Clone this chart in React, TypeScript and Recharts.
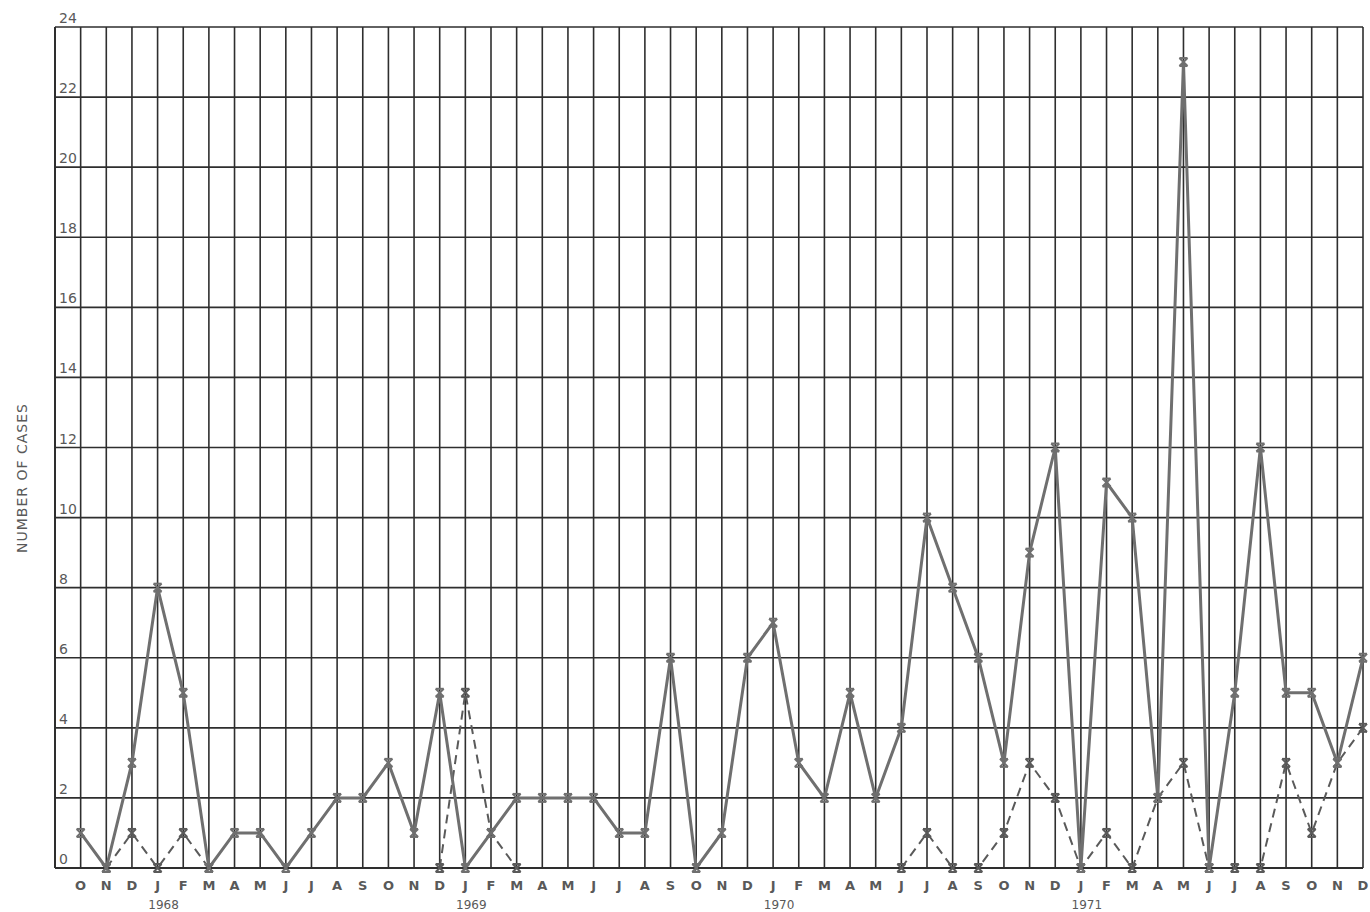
import React from 'react'
import { LineChart, Line, XAxis, YAxis, CartesianGrid } from 'recharts'

// Oct 1967 .. Dec 1971
const monthLetters = [
  'O', 'N', 'D',
  'J', 'F', 'M', 'A', 'M', 'J', 'J', 'A', 'S', 'O', 'N', 'D',
  'J', 'F', 'M', 'A', 'M', 'J', 'J', 'A', 'S', 'O', 'N', 'D',
  'J', 'F', 'M', 'A', 'M', 'J', 'J', 'A', 'S', 'O', 'N', 'D',
  'J', 'F', 'M', 'A', 'M', 'J', 'J', 'A', 'S', 'O', 'N', 'D',
]

const yearLabels: Record<number, string> = { 3: '1968', 15: '1969', 27: '1970', 39: '1971' }

const totalCases = [
  1, 0, 3,
  8, 5, 0, 1, 1, 0, 1, 2, 2, 3, 1, 5,
  0, 1, 2, 2, 2, 2, 1, 1, 6, 0, 1, 6,
  7, 3, 2, 5, 2, 4, 10, 8, 6, 3, 9, 12,
  0, 11, 10, 2, 23, 0, 5, 12, 5, 5, 3, 6,
]

// dashed series, null where it is not drawn
const dashedCases = [
  null, 0, 1,
  0, 1, 0, null, null, null, null, null, null, null, null, 0,
  5, 1, 0, null, null, null, null, null, null, null, null, null,
  null, null, null, null, null, 0, 1, 0, 0, 1, 3, 2,
  0, 1, 0, 2, 3, 0, 0, 0, 3, 1, 3, 4,
]

const yTicks = [0, 2, 4, 6, 8, 10, 12, 14, 16, 18, 20, 22, 24]
const xTicks = [-1, ...monthLetters.map((_, i) => i)]

const data = monthLetters.map((m, i) => ({
  i,
  month: m,
  total: totalCases[i],
  dashed: dashedCases[i],
}))

const ink = '#6f6f6f'
const gridInk = '#2e2e2e'
const textInk = '#595959'
const font = 'DejaVu Sans, sans-serif'

const Marker = (props: any) => {
  const { cx, cy, index, stroke } = props
  if (cx == null || cy == null || props.value == null) return <g key={`m-${index}`} />
  const s = 4
  return (
    <g key={`m-${index}`} stroke={stroke} strokeWidth={2}>
      <line x1={cx - s} y1={cy - s} x2={cx + s} y2={cy + s} />
      <line x1={cx + s} y1={cy - s} x2={cx - s} y2={cy + s} />
      <line x1={cx - s} y1={cy - s} x2={cx + s} y2={cy - s} />
      <line x1={cx - s} y1={cy + s} x2={cx + s} y2={cy + s} />
    </g>
  )
}

const MonthTick = (props: any) => {
  const { x, y, payload } = props
  const i = payload.value
  if (i < 0) return <g />
  return (
    <g>
      <text x={x} y={y} dy={14} textAnchor="middle" fontSize={13} fontWeight="bold"
        fontFamily={font} fill={textInk}>
        {monthLetters[i]}
      </text>
      {yearLabels[i] && (
        <text x={x + 6} y={y} dy={33} textAnchor="middle" fontSize={12}
          fontFamily={font} fill={textInk}>
          {yearLabels[i]}
        </text>
      )}
    </g>
  )
}

// labels sit inside the plot, just right of the axis and above each line
const CaseTick = (props: any) => {
  const { y, payload } = props
  return (
    <text x={59} y={y - 4} textAnchor="start" fontSize={14}
      fontFamily={font} fill={textInk}>
      {payload.value}
    </text>
  )
}

const AxisTitle = () => (
  <text x={27} y={478} transform="rotate(-90, 27, 478)" textAnchor="middle"
    fontSize={14} fontFamily={font} fill={textInk} letterSpacing={1}>
    NUMBER OF CASES
  </text>
)

export default function App() {
  return (
    <div style={{ position: 'absolute', left: 0, top: 0, background: '#fff' }}>
      <LineChart width={1370} height={912} data={data}
        margin={{ top: 27, right: 7, left: 0, bottom: 0 }}>
        <CartesianGrid stroke={gridInk} strokeWidth={1.6} />
        <XAxis
          dataKey="i"
          type="number"
          domain={[-1, 50]}
          ticks={xTicks}
          interval={0}
          height={44}
          tickLine={false}
          axisLine={{ stroke: gridInk, strokeWidth: 2 }}
          tick={<MonthTick />}
        />
        <YAxis
          type="number"
          domain={[0, 24]}
          ticks={yTicks}
          interval={0}
          width={55}
          tickLine={false}
          axisLine={{ stroke: gridInk, strokeWidth: 2 }}
          tick={<CaseTick />}
          label={<AxisTitle />}
        />
        <Line
          dataKey="dashed"
          stroke="#5a5a5a"
          strokeWidth={2}
          strokeDasharray="9 6"
          dot={<Marker />}
          activeDot={false}
          connectNulls={false}
          isAnimationActive={false}
        />
        <Line
          dataKey="total"
          stroke={ink}
          strokeWidth={3}
          dot={<Marker />}
          activeDot={false}
          isAnimationActive={false}
        />
      </LineChart>
    </div>
  )
}
